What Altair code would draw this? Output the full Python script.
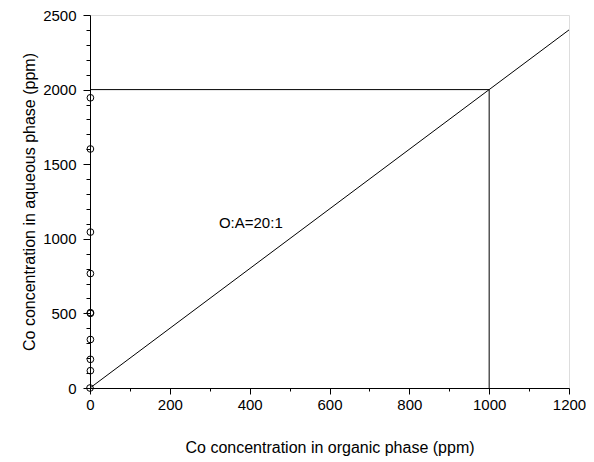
import altair as alt
import pandas as pd

# Equilibrium data points (organic phase ~0, aqueous phase values)
org_x = [0, 1, 1, 1, 1, 1, 1, 1, 1, 1]
aq_y = [0, 116, 192, 325, 500, 505, 767, 1045, 1602, 1945]

# Operating line O:A = 20:1
op_x = [0, 1200]
op_y = [0, 2400]

# Equilibrium curve segment along x ~ 0
eq_x = [0, 0]
eq_y = [0, 1150]

# Construction lines
h_x = [0, 1000]
h_y = [2000, 2000]
v_x = [1000, 1000]
v_y = [0, 2000]

label_text = ["O:A=20:1"]
label_x = [323]
label_y = [1103]

FONT = "Liberation Sans"

xscale = alt.Scale(domain=[0, 1200], nice=False)
yscale = alt.Scale(domain=[0, 2500], nice=False)

xaxis = alt.Axis(
    title="Co concentration in organic phase (ppm)",
    values=list(range(0, 1201, 100)), format="d",
    labelExpr="datum.value % 200 == 0 ? datum.label : ''",
    grid=False,
    tickSize={"condition": {"test": "datum.value % 200 == 0", "value": 6}, "value": 3},
    tickColor="black", domainColor="black",
    labelFont=FONT, labelFontSize=15, labelColor="black", labelPadding=3,
    titleFont=FONT, titleFontSize=16, titleFontWeight="normal", titleColor="black",
    titlePadding=27, labelFlush=False,
)
yaxis = alt.Axis(
    title="Co concentration in aqueous phase (ppm)",
    values=list(range(0, 2501, 100)), format="d",
    labelExpr="datum.value % 500 == 0 ? datum.label : ''",
    grid=False,
    tickSize={"condition": {"test": "datum.value % 500 == 0", "value": 7}, "value": 4},
    tickColor="black", domainColor="black",
    labelFont=FONT, labelFontSize=15, labelColor="black", labelPadding=7,
    titleFont=FONT, titleFontSize=16, titleFontWeight="normal", titleColor="black",
    titlePadding=5, labelFlush=False,
)

pts = pd.DataFrame({"x": org_x, "y": aq_y})
op = pd.DataFrame({"x": op_x, "y": op_y})
eq = pd.DataFrame({"x": eq_x, "y": eq_y})
hl = pd.DataFrame({"x": h_x, "y": h_y})
vl = pd.DataFrame({"x": v_x, "y": v_y})
lab = pd.DataFrame({"t": label_text, "x": label_x, "y": label_y})

def line(df, sw=1):
    return alt.Chart(df).mark_line(color="black", strokeWidth=sw, clip=True).encode(
        x=alt.X("x:Q", scale=xscale, axis=xaxis),
        y=alt.Y("y:Q", scale=yscale, axis=yaxis),
    )

points = alt.Chart(pts).mark_point(
    shape="circle", filled=False, color="black", size=45, strokeWidth=1, opacity=1
).encode(
    x=alt.X("x:Q", scale=xscale, axis=xaxis),
    y=alt.Y("y:Q", scale=yscale, axis=yaxis),
)

text = alt.Chart(lab).mark_text(
    align="left", baseline="middle", font=FONT, fontSize=15, color="black"
).encode(
    x=alt.X("x:Q", scale=xscale, axis=xaxis),
    y=alt.Y("y:Q", scale=yscale, axis=yaxis),
    text="t:N",
)

chart = alt.layer(
    line(op), line(eq, 1.6), line(hl), line(vl), points, text
).properties(
    width=479, height=373,
    autosize=alt.AutoSizeParams(type="none"),
    padding={"left": 82, "top": 7, "right": 17, "bottom": 73},
).configure_view(stroke="black", strokeWidth=1).configure(background="white")

chart.save("out.html", embed_options={"renderer": "svg", "actions": False})
